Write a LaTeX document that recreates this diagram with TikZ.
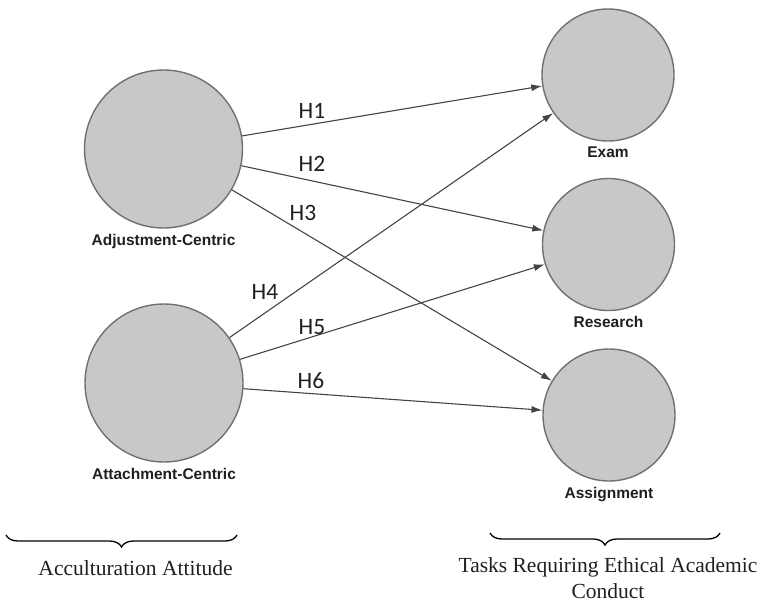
\documentclass[tikz,border=0pt]{standalone}
\usepackage{fontspec}
\setmainfont{Liberation Serif}
\newfontfamily\labfont{Liberation Sans}
\newfontfamily\hypfont{Carlito}
\usepackage{tikz}
\usetikzlibrary{positioning,decorations.pathreplacing,arrows.meta}
\definecolor{circfill}{RGB}{200,200,200}
\definecolor{circedge}{RGB}{112,112,112}
\definecolor{linkcol}{RGB}{68,68,68}

\begin{document}
\begin{tikzpicture}[x=1pt,y=-1pt,
	construct/.style={circle,draw=circedge,fill=circfill,line width=1.4pt,inner sep=0pt},
	predictor/.style={construct,minimum size=158pt},
	outcome/.style={construct,minimum size=132pt},
	cname/.style={font=\labfont\bfseries\fontsize{15.5}{18}\selectfont,text=black!88,inner sep=0pt},
	link/.style={draw=linkcol,line width=1.1pt,-{Latex[length=11pt,width=7pt]}},
	hyp/.style={font=\hypfont\fontsize{23.5}{26}\selectfont,text=black!88},
	bracetext/.style={font=\fontsize{21.5}{26}\selectfont,align=center,text=black!88},
	bracedraw/.style={decorate,decoration={brace,mirror,amplitude=12pt},line width=1.3pt}]
	\useasboundingbox (0,0) rectangle (766,603);
	% constructs
	\node[predictor] (adj) at (163.5,149) {};
	\node[predictor] (att) at (164,383) {};
	\node[outcome] (exam) at (608,75) {};
	\node[outcome] (research) at (608.5,244.5) {};
	\node[outcome] (assign) at (609,415) {};
	\node[cname, below=5pt of adj] (adjlab) {Adjustment-Centric};
	\node[cname, below=5pt of att] (attlab) {Attachment-Centric};
	\node[cname, below=5pt of exam] (examlab) {Exam};
	\node[cname, below=5pt of research] (researchlab) {Research};
	\node[cname, below=5pt of assign] (assignlab) {Assignment};
	% hypotheses
	\foreach \src/\dst/\n/\lx/\ly in {adj/exam/1/312/111, adj/research/2/312/164, adj/assign/3/303/213, att/exam/4/265/292, att/research/5/312/327, att/assign/6/311/381} {
		\draw[link] (\src) -- (\dst);
		\node[hyp] (h\n) at (\lx,\ly) {H\n};
	}
	% braces
	\coordinate (lbl) at (6,535);
	\coordinate (lbr) at (237,535);
	\coordinate (rbl) at (490,533);
	\coordinate (rbr) at (720,533);
	\draw[bracedraw] (lbl) -- (lbr);
	\draw[bracedraw] (rbl) -- (rbr);
	\node[bracetext] (acc) at (135.5,568) {Acculturation Attitude};
	\node[bracetext] (tasks) at (608,578) {Tasks Requiring Ethical Academic\\Conduct};
\end{tikzpicture}
\end{document}
